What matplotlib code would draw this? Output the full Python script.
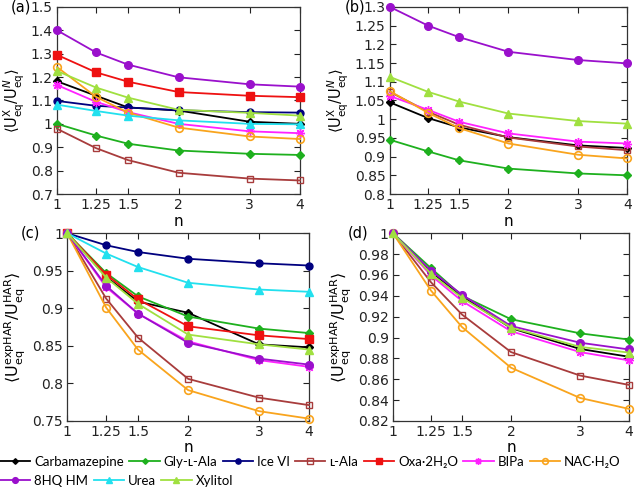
import matplotlib
matplotlib.use("Agg")
import matplotlib.pyplot as plt
from matplotlib.ticker import FixedLocator, FuncFormatter, NullLocator
from matplotlib.lines import Line2D

plt.rcParams['font.family'] = ['DejaVu Sans']
plt.rcParams['mathtext.fontset'] = 'dejavusans'

n_vals = [1, 1.25, 1.5, 2, 3, 4]
n_ticklabels = ['1', '1.25', '1.5', '2', '3', '4']

names = ['Carbamazepine', 'Gly-ʟ-Ala', 'Ice VI', 'ʟ-Ala', 'Oxa·2H₂O', 'BIPa',
         'NAC·H₂O', '8HQ HM', 'Urea', 'Xylitol']

# Panel (a)
a_carb = [1.182, 1.12, 1.07, 1.057, 1.009, 1.0]
a_gly = [1.0, 0.95, 0.915, 0.886, 0.872, 0.867]
a_ice = [1.098, 1.077, 1.07, 1.058, 1.05, 1.048]
a_lala = [0.979, 0.896, 0.845, 0.791, 0.766, 0.758]
a_oxa = [1.295, 1.22, 1.18, 1.136, 1.12, 1.114]
a_bipa = [1.166, 1.094, 1.05, 1.0, 0.968, 0.96]
a_nac = [1.243, 1.115, 1.048, 0.984, 0.946, 0.935]
a_8hq = [1.40, 1.305, 1.253, 1.199, 1.169, 1.159]
a_urea = [1.082, 1.055, 1.035, 1.015, 1.0, 0.998]
a_xyl = [1.226, 1.155, 1.112, 1.06, 1.047, 1.035]

# Panel (b)
b_carb = [1.045, 1.003, 0.978, 0.952, 0.93, 0.923]
b_gly = [0.945, 0.914, 0.89, 0.868, 0.855, 0.85]
b_lala = [1.073, 1.02, 0.985, 0.951, 0.927, 0.917]
b_bipa = [1.062, 1.025, 0.993, 0.962, 0.94, 0.935]
b_nac = [1.075, 1.017, 0.976, 0.935, 0.905, 0.895]
b_8hq = [1.30, 1.25, 1.219, 1.18, 1.158, 1.149]
b_xyl = [1.113, 1.073, 1.047, 1.015, 0.995, 0.988]

# Panel (c)
c_carb = [1.0, 0.942, 0.909, 0.894, 0.852, 0.848]
c_gly = [1.0, 0.947, 0.916, 0.889, 0.873, 0.867]
c_ice = [1.0, 0.984, 0.975, 0.966, 0.96, 0.957]
c_lala = [1.0, 0.913, 0.861, 0.806, 0.781, 0.771]
c_oxa = [1.0, 0.945, 0.912, 0.876, 0.864, 0.859]
c_bipa = [1.0, 0.928, 0.893, 0.856, 0.831, 0.822]
c_nac = [1.0, 0.901, 0.845, 0.791, 0.763, 0.753]
c_8hq = [1.0, 0.93, 0.893, 0.854, 0.833, 0.825]
c_urea = [1.0, 0.973, 0.955, 0.934, 0.925, 0.922]
c_xyl = [1.0, 0.941, 0.906, 0.865, 0.852, 0.845]

# Panel (d)
d_carb = [1.0, 0.963, 0.9395, 0.909, 0.889, 0.8815]
d_gly = [1.0, 0.9665, 0.940, 0.9175, 0.904, 0.898]
d_lala = [1.0, 0.953, 0.922, 0.886, 0.8635, 0.8545]
d_bipa = [1.0, 0.9595, 0.935, 0.906, 0.886, 0.878]
d_nac = [1.0, 0.945, 0.910, 0.871, 0.842, 0.8315]
d_8hq = [1.0, 0.964, 0.941, 0.911, 0.895, 0.8885]
d_xyl = [1.0, 0.961, 0.938, 0.9095, 0.891, 0.8855]

styles = {
    'Carbamazepine': dict(color='#000000', marker='D', ms=3.8, mfc='#000000'),
    'Gly-ʟ-Ala': dict(color='#1eb01e', marker='D', ms=3.8, mfc='#1eb01e'),
    'Ice VI': dict(color='#00007f', marker='o', ms=5, mfc='#00007f'),
    'ʟ-Ala': dict(color='#a83c3c', marker='s', ms=5, mfc='none', mew=1.0),
    'Oxa·2H₂O': dict(color='#ee1111', marker='s', ms=5.5, mfc='#ee1111'),
    'BIPa': dict(color='#ff22ff', marker=(8, 2, 0), ms=6.5, mfc='#ff22ff', mew=1.0),
    'NAC·H₂O': dict(color='#f9a41d', marker='o', ms=5.5, mfc='none', mew=1.2),
    '8HQ HM': dict(color='#9a10cc', marker='o', ms=5.5, mfc='#9a10cc'),
    'Urea': dict(color='#22e0ee', marker='^', ms=5.5, mfc='#22e0ee'),
    'Xylitol': dict(color='#a0e040', marker='^', ms=5.5, mfc='#a0e040'),
}

lab_x = r'$\langle \mathrm{U}^{\mathrm{X}}_{\mathrm{eq}}/\mathrm{U}^{N}_{\mathrm{eq}}\rangle$'
lab_h = r'$\langle \mathrm{U}^{\mathrm{expHAR}}_{\mathrm{eq}}/\mathrm{U}^{\mathrm{HAR}}_{\mathrm{eq}}\rangle$'

panels = [
    dict(rect=[0.089, 0.604, 0.380, 0.382], tag='(a)', ylim=(0.7, 1.5),
         yticks=[0.7, 0.8, 0.9, 1.0, 1.1, 1.2, 1.3, 1.4, 1.5], ylabel=lab_x, lfs=10.5,
         series=[('Carbamazepine', a_carb), ('Gly-ʟ-Ala', a_gly), ('Ice VI', a_ice),
                 ('ʟ-Ala', a_lala), ('Oxa·2H₂O', a_oxa), ('BIPa', a_bipa),
                 ('NAC·H₂O', a_nac), ('8HQ HM', a_8hq), ('Urea', a_urea), ('Xylitol', a_xyl)]),
    dict(rect=[0.609, 0.604, 0.371, 0.382], tag='(b)', ylim=(0.8, 1.3),
         yticks=[0.8, 0.85, 0.9, 0.95, 1.0, 1.05, 1.1, 1.15, 1.2, 1.25, 1.3], ylabel=lab_x, lfs=10.5,
         series=[('Carbamazepine', b_carb), ('Gly-ʟ-Ala', b_gly), ('ʟ-Ala', b_lala),
                 ('BIPa', b_bipa), ('NAC·H₂O', b_nac), ('8HQ HM', b_8hq), ('Xylitol', b_xyl)]),
    dict(rect=[0.105, 0.141, 0.378, 0.383], tag='(c)', ylim=(0.75, 1.0),
         yticks=[0.75, 0.8, 0.85, 0.9, 0.95, 1.0], ylabel=lab_h, lfs=11.5,
         series=[('Carbamazepine', c_carb), ('Gly-ʟ-Ala', c_gly), ('Ice VI', c_ice),
                 ('ʟ-Ala', c_lala), ('Oxa·2H₂O', c_oxa), ('BIPa', c_bipa),
                 ('NAC·H₂O', c_nac), ('8HQ HM', c_8hq), ('Urea', c_urea), ('Xylitol', c_xyl)]),
    dict(rect=[0.614, 0.141, 0.369, 0.383], tag='(d)', ylim=(0.82, 1.0),
         yticks=[0.82, 0.84, 0.86, 0.88, 0.9, 0.92, 0.94, 0.96, 0.98, 1.0], ylabel=lab_h, lfs=11.5,
         series=[('Carbamazepine', d_carb), ('Gly-ʟ-Ala', d_gly), ('ʟ-Ala', d_lala),
                 ('BIPa', d_bipa), ('NAC·H₂O', d_nac), ('8HQ HM', d_8hq), ('Xylitol', d_xyl)]),
]

fig = plt.figure(figsize=(6.4, 4.9), dpi=100)

for p in panels:
    ax = fig.add_axes(p['rect'])
    for name, vals in p['series']:
        st = styles[name]
        ax.plot(n_vals, vals, color=st['color'], lw=1.3, marker=st['marker'],
                ms=st['ms'], mfc=st['mfc'], mec=st['color'], mew=st.get('mew', 1.0),
                clip_on=False, zorder=3)
    ax.set_xscale('log')
    ax.set_xlim(1, 4)
    ax.set_ylim(*p['ylim'])
    ax.xaxis.set_major_locator(FixedLocator(n_vals))
    ax.xaxis.set_minor_locator(NullLocator())
    ax.set_xticklabels(n_ticklabels)
    ax.yaxis.set_major_locator(FixedLocator(p['yticks']))
    ax.yaxis.set_minor_locator(NullLocator())
    ax.yaxis.set_major_formatter(FuncFormatter(lambda v, pos: '{:g}'.format(round(v, 3))))
    ax.tick_params(direction='in', top=True, right=True, length=4, width=0.8,
                   labelsize=10, pad=3, colors='#222222')
    for sp in ax.spines.values():
        sp.set_linewidth(0.9)
        sp.set_color('#333333')
    ax.set_xlabel('n', fontsize=11, labelpad=1)
    ax.set_ylabel(p['ylabel'], fontsize=p['lfs'], labelpad=3)
    ax.text(-0.19, 1.0, p['tag'], transform=ax.transAxes, fontsize=10.5,
            ha='left', va='center')

row1 = names[:7]
row2 = names[7:]

def handles_for(lst):
    hs = []
    for name in lst:
        st = styles[name]
        hs.append(Line2D([0], [0], color=st['color'], lw=1.3, marker=st['marker'],
                         ms=st['ms'] * 0.75, mfc=st['mfc'], mec=st['color'],
                         mew=st.get('mew', 1.0)))
    return hs

leg_kw = dict(frameon=False, handlelength=2.3, handletextpad=0.3, columnspacing=0.4,
              borderpad=0, borderaxespad=0,
              prop=dict(family=['Lato', 'DejaVu Sans'], size=9.5))
fig.legend(handles_for(row1), row1, ncol=7, loc='center left',
           bbox_to_anchor=(0.0, 1 - 462 / 490), **leg_kw)
fig.legend(handles_for(row2), row2, ncol=3, loc='center left',
           bbox_to_anchor=(0.0, 1 - 481 / 490), **leg_kw)

fig.savefig('out.png', dpi=100)
